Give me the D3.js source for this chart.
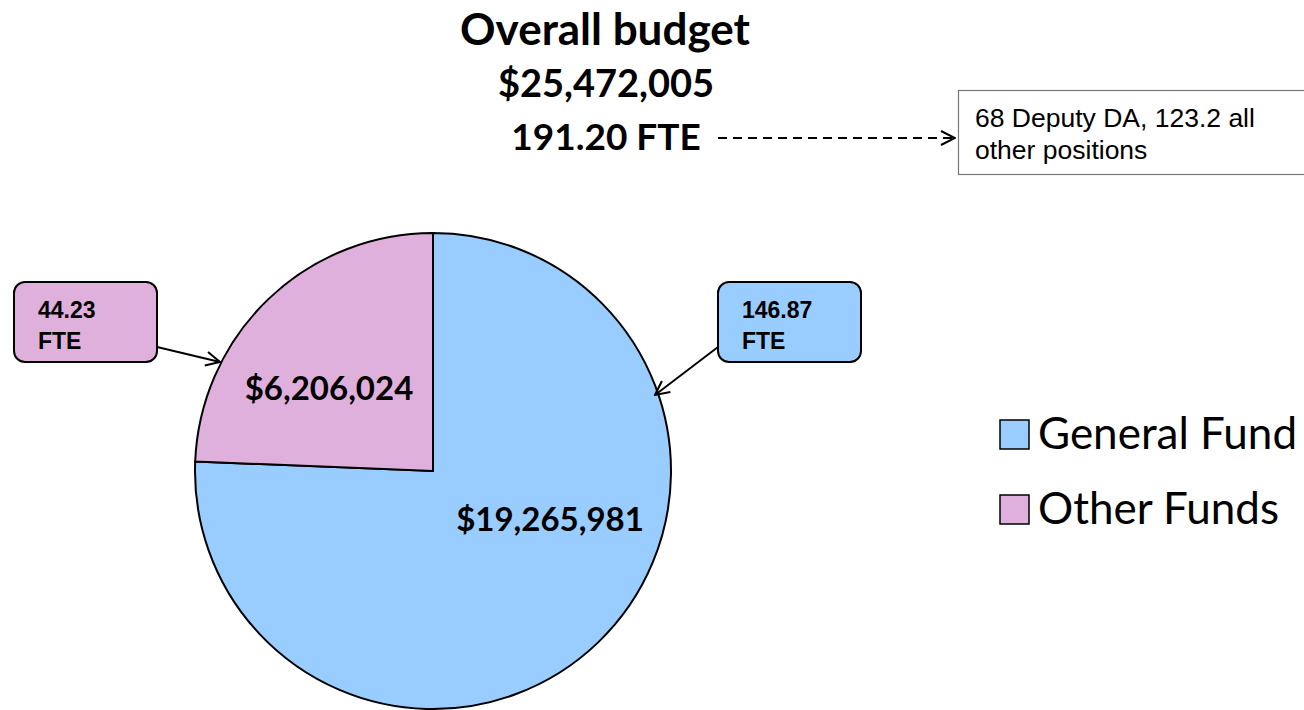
<!DOCTYPE html>
<html>
<head>
<meta charset="utf-8">
<script src="https://cdn.jsdelivr.net/npm/d3@7"></script>
<style>
  body { margin: 0; background: #fff; }
  svg { display: block; }
</style>
</head>
<body>
<svg id="chart" width="1304" height="710"></svg>
<script>
// data
var funds = ["General Fund", "Other Funds"];
var amounts = [19265981, 6206024];
var fte = ["146.87", "44.23"];
var colors = ["#99ccff", "#e0b0dc"];
var titleLines = ["Overall budget", "$25,472,005", "191.20 FTE"];
var noteLines = ["68 Deputy DA, 123.2 all", "other positions"];

var svg = d3.select("#chart");
var W = 1304, H = 710;
var cx = 433, cy = 471, r = 238;
var cal = "Lato, 'Open Sans', sans-serif";
var ari = "'Liberation Sans', Arial, sans-serif";

var defs = svg.append("defs");
defs.append("marker").attr("id", "arr")
  .attr("viewBox", "0 0 16 16").attr("refX", 15).attr("refY", 8)
  .attr("markerWidth", 16).attr("markerHeight", 16)
  .attr("markerUnits", "userSpaceOnUse")
  .attr("orient", "auto")
  .append("path").attr("d", "M1,1 L15,8 L1,15")
  .attr("fill", "none").attr("stroke", "#000").attr("stroke-width", 2);

// title block
var title = svg.append("g").attr("font-family", cal).attr("font-weight", "bold")
  .attr("text-anchor", "middle").attr("fill", "#000");
title.append("text").attr("x", 605).attr("y", 45).style("font-size", "44px").text(titleLines[0]);
title.append("text").attr("x", 606).attr("y", 97).style("font-size", "38px").text(titleLines[1]);
title.append("text").attr("x", 606).attr("y", 150).style("font-size", "37px").text(titleLines[2]);

// dashed arrow to note
svg.append("line").attr("x1", 718).attr("y1", 138).attr("x2", 955).attr("y2", 138)
  .attr("stroke", "#000").attr("stroke-width", 2).attr("stroke-dasharray", "9,6")
  .attr("marker-end", "url(#arr)");

svg.append("rect").attr("x", 958.5).attr("y", 90.5).attr("width", 360).attr("height", 84)
  .attr("fill", "#fff").attr("stroke", "#777").attr("stroke-width", 1.2);
svg.selectAll(".note").data(noteLines).enter().append("text").attr("class", "note")
  .attr("x", 975).attr("y", (d, i) => 127 + i * 32)
  .attr("font-family", ari).style("font-size", "26.5px").text(d => d);

// pie
var pie = d3.pie().sort(null).value(d => d)
  .startAngle(0).endAngle(2 * Math.PI);
var arcs = pie(amounts);
var arc = d3.arc().innerRadius(0).outerRadius(r);

var g = svg.append("g").attr("transform", "translate(" + cx + "," + cy + ")");
g.selectAll("path.slice").data(arcs).enter().append("path").attr("class", "slice")
  .attr("d", arc)
  .attr("fill", (d, i) => colors[i])
  .attr("stroke", "#000").attr("stroke-width", 2);

var fmt = d3.format("$,");
var labelPos = [[117, 60], [-104, -71]];
var labelSize = ["33px", "33px"];
g.selectAll("text.val").data(arcs).enter().append("text").attr("class", "val")
  .attr("x", (d, i) => labelPos[i][0]).attr("y", (d, i) => labelPos[i][1])
  .attr("text-anchor", "middle")
  .attr("font-family", cal).attr("font-weight", "bold")
  .style("font-size", (d, i) => labelSize[i])
  .text(d => fmt(d.data));

// FTE callouts
var boxes = [
  {x: 718, y: 282, ax1: 718, ay1: 347, ax2: 655, ay2: 395},
  {x: 14, y: 282, ax1: 157, ay1: 347, ax2: 220, ay2: 362}
];
boxes.forEach(function(b, i) {
  svg.append("line").attr("x1", b.ax1).attr("y1", b.ay1).attr("x2", b.ax2).attr("y2", b.ay2)
    .attr("stroke", "#000").attr("stroke-width", 2).attr("marker-end", "url(#arr)");
  svg.append("rect").attr("x", b.x).attr("y", b.y).attr("width", 143).attr("height", 80)
    .attr("rx", 11).attr("ry", 11)
    .attr("fill", colors[i]).attr("stroke", "#000").attr("stroke-width", 2);
  var t = svg.append("text").attr("font-family", ari).attr("font-weight", "bold")
    .style("font-size", "23px");
  t.append("tspan").attr("x", b.x + 24).attr("y", b.y + 36).text(fte[i]);
  t.append("tspan").attr("x", b.x + 24).attr("y", b.y + 67).text("FTE");
});

// legend
var leg = svg.append("g").attr("transform", "translate(1000,420)");
var li = leg.selectAll("g").data(funds).enter().append("g")
  .attr("transform", (d, i) => "translate(0," + i * 75 + ")");
li.append("rect").attr("width", 29).attr("height", 29)
  .attr("fill", (d, i) => colors[i]).attr("stroke", "#000").attr("stroke-width", 1.5);
li.append("text").attr("x", 38).attr("y", 29)
  .attr("font-family", cal).style("font-size", "44px").text(d => d);
</script>
</body>
</html>
